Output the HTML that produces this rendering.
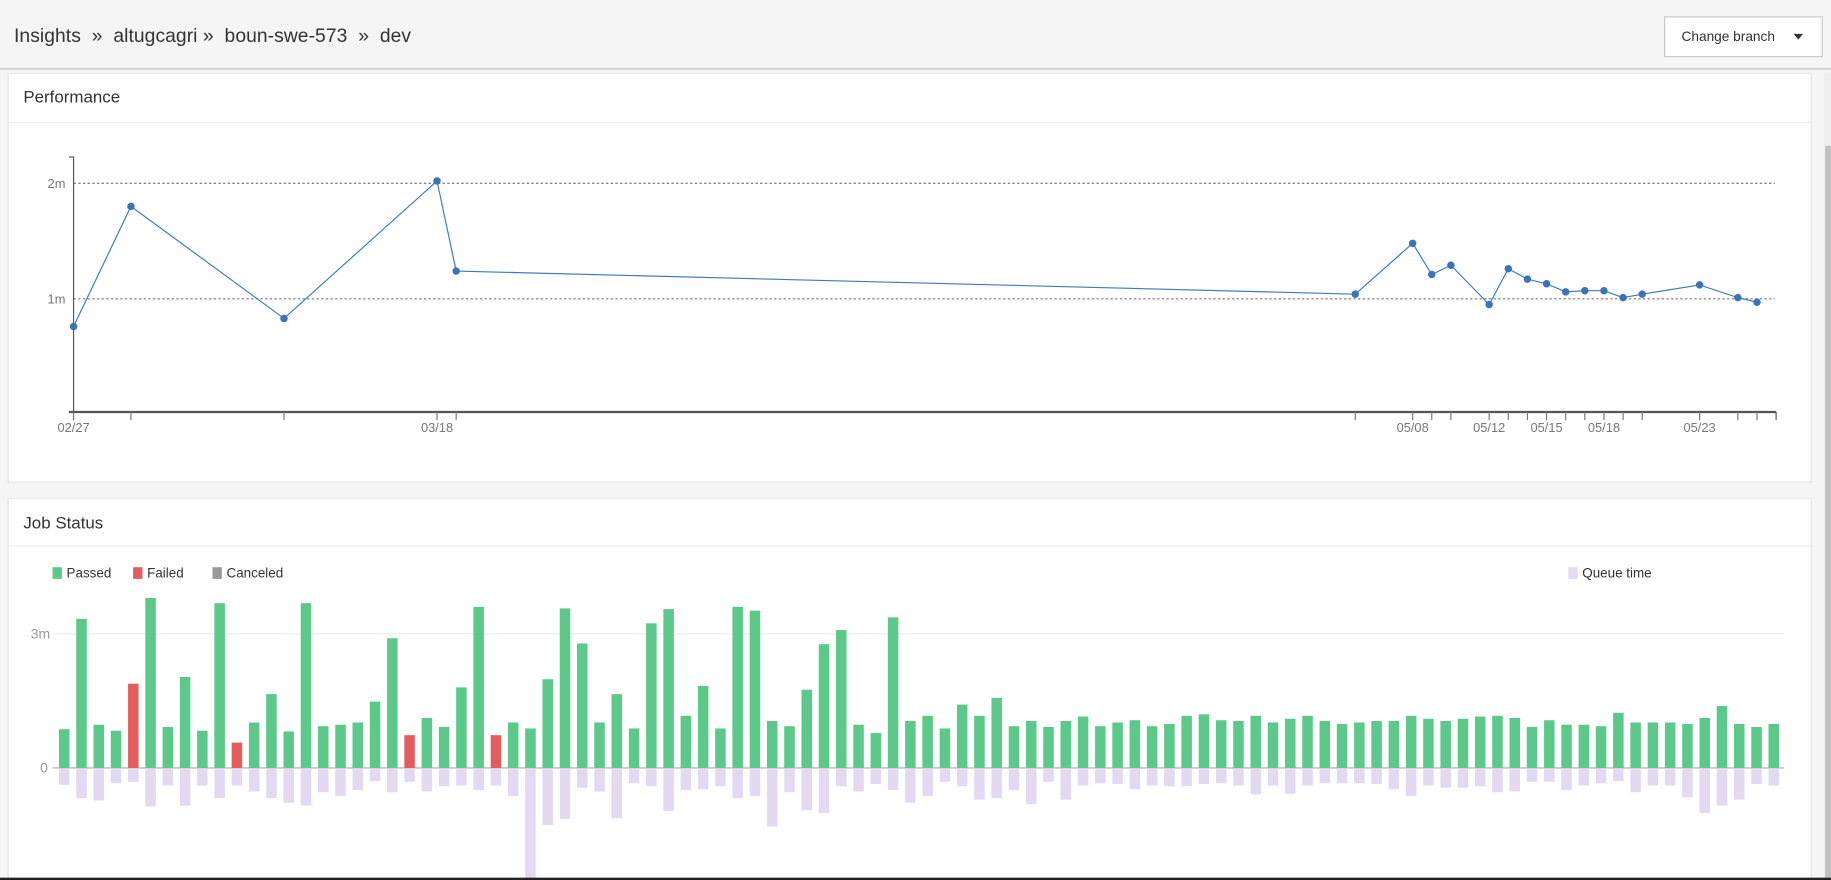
<!DOCTYPE html>
<html><head><meta charset="utf-8"><style>
html,body{margin:0;padding:0;background:#f5f5f5;overflow:hidden}
svg{display:block;font-family:"Liberation Sans",Arial,sans-serif}
</style></head><body>
<svg id="root" width="1831" height="880" viewBox="0 0 1568 754" preserveAspectRatio="none" xmlns="http://www.w3.org/2000/svg">
<rect x="0" y="0" width="1568" height="754" fill="#f5f5f5"/>
<g>
<line x1="0" y1="59" x2="1568" y2="59" stroke="#d0d0d0" stroke-width="1.5"/>
<text x="12" y="36" font-size="16.5" fill="#333" style="white-space:pre" textLength="340">Insights  »  altugcagri »  boun-swe-573  »  dev</text>
<g>
<rect x="1425.5" y="14.5" width="135" height="34" fill="#fff" stroke="#c8c8c8"/>
<text x="1440" y="35" font-size="11.5" fill="#333" textLength="80" lengthAdjust="spacingAndGlyphs">Change branch</text>
<path d="M1536 29 L1544 29 L1540 34 Z" fill="#333"/>
</g>
</g>
<rect x="1562" y="62" width="6" height="692" fill="#eee"/>
<rect x="1563" y="125" width="5" height="629" fill="#c1c1c1"/>
<g>
<rect x="7" y="63" width="1544" height="350" fill="#fff" stroke="#e6e6e6"/>
<line x1="7" y1="105" x2="1551" y2="105" stroke="#eee"/>
<text x="20" y="88" font-size="14.5" fill="#333">Performance</text>
<g id="perf"></g>
</g>
<g>
<rect x="7" y="427" width="1544" height="340" fill="#fff" stroke="#e6e6e6"/>
<line x1="7" y1="468" x2="1551" y2="468" stroke="#eee"/>
<text x="20" y="453" font-size="14.5" fill="#333">Job Status</text>
<g font-size="11.5" fill="#333">
<g><rect x="45" y="486" width="8" height="10" fill="#5cc98a"/><text x="57" y="495">Passed</text></g>
<g><rect x="114" y="486" width="8" height="10" fill="#e35d5d"/><text x="126" y="495">Failed</text></g>
<g><rect x="182" y="486" width="8" height="10" fill="#999"/><text x="194" y="495">Canceled</text></g>
<g><rect x="1343" y="486" width="8" height="10" fill="#e3d9f2"/><text x="1355" y="495">Queue time</text></g>
</g>
<g id="jobs"></g>
</g>
<rect x="0" y="752" width="1568" height="2" fill="#222"/>
</svg>
<script>
// Performance data (days since 02/27, duration minutes)
const perfDays=[0,3,11,19,20,67,70,71,72,74,75,76,77,78,79,80,81,82,85,87,88];
const perfValues=[0.76,1.80,0.83,2.02,1.24,1.04,1.48,1.21,1.29,0.95,1.26,1.17,1.13,1.06,1.07,1.07,1.01,1.04,1.12,1.01,0.97];
const perfTickDays=[0,19,70,74,77,80,85];
const perfTickLabels=["02/27","03/18","05/08","05/12","05/15","05/18","05/23"];
const perfYTicks=[1,2];
const perfYLabels=["1m","2m"];
// Job status data (seconds)
const jobDurations=[52,200,58,50,113,228,55,122,50,221,34,61,99,49,221,56,58,61,89,174,44,67,55,108,216,44,61,53,119,214,167,61,99,53,194,213,70,110,53,216,211,63,56,105,166,185,58,47,202,63,70,53,85,70,94,56,63,55,63,69,56,61,64,56,59,70,72,64,63,70,61,66,70,63,59,61,63,63,70,66,63,66,69,70,67,55,64,58,58,56,74,61,61,61,59,67,83,59,55,59];
const jobStatus=["p","p","p","p","f","p","p","p","p","p","f","p","p","p","p","p","p","p","p","p","f","p","p","p","p","f","p","p","p","p","p","p","p","p","p","p","p","p","p","p","p","p","p","p","p","p","p","p","p","p","p","p","p","p","p","p","p","p","p","p","p","p","p","p","p","p","p","p","p","p","p","p","p","p","p","p","p","p","p","p","p","p","p","p","p","p","p","p","p","p","p","p","p","p","p","p","p","p","p","p"];
const queueTimes=[21,39,42,19,17,50,22,49,22,39,22,30,39,45,49,31,36,28,16,31,17,30,23,22,28,22,36,160,75,67,25,30,66,19,23,56,28,27,23,39,36,77,31,55,59,23,30,20,28,45,36,17,23,41,39,28,47,17,41,22,19,20,27,22,23,23,20,19,22,34,22,33,22,19,19,19,20,27,36,22,25,25,23,31,30,17,17,28,22,19,16,31,22,22,38,59,49,41,20,22];
const jobYTicks=[0,180];
const jobYLabels=["0","3m"];

const NS="http://www.w3.org/2000/svg";
function mk(tag,attrs,parent){const e=document.createElementNS(NS,tag);for(const k in attrs)e.setAttribute(k,attrs[k]);parent.appendChild(e);return e;}

const px=d=>63+d*(1458/89);
const py=v=>355-v*99;
const perf=document.getElementById('perf');
perfYTicks.forEach((t,i)=>{
  const g=mk('line',{x1:63,y1:py(t),x2:1520,y2:py(t),stroke:'#777','stroke-dasharray':'2,2'},perf);
  
  
  const tx=mk('text',{x:56,y:py(t)+4,'font-size':11,fill:'#777','text-anchor':'end'},perf);
  tx.textContent=perfYLabels[i];
  
  
});
let a=mk('line',{x1:63,y1:134,x2:63,y2:354,stroke:'#555'},perf);


mk('line',{x1:59,y1:134.5,x2:63,y2:134.5,stroke:'#555'},perf);
a=mk('line',{x1:59,y1:353,x2:1521,y2:353,stroke:'#555','stroke-width':2},perf);


mk('line',{x1:1521,y1:353,x2:1521,y2:360,stroke:'#555'},perf);
perfDays.forEach(d=>{mk('line',{x1:px(d),y1:353,x2:px(d),y2:360,stroke:'#777'},perf);});
perfTickDays.forEach((d,i)=>{
  const t=mk('text',{x:px(d),y:370,'font-size':11,fill:'#777','text-anchor':'middle'},perf);
  t.textContent=perfTickLabels[i];
  
  
});
const pts=perfDays.map((d,i)=>px(d)+','+py(perfValues[i])).join(' ');
const ln=mk('polyline',{points:pts,fill:'none',stroke:'#3a7bbf','stroke-width':1},perf);


perfDays.forEach((d,i)=>{
  const c=mk('circle',{cx:px(d),cy:py(perfValues[i]),r:3.2,fill:'#3a74b4'},perf);
  
  
});

const jobs=document.getElementById('jobs');
const jy0=658, jscale=38.33/60;
const jx=i=>55+i*(1464/99);
jobYTicks.forEach((t,i)=>{
  const l=mk('line',{x1:45,y1:jy0-t*jscale,x2:1528,y2:jy0-t*jscale,stroke:t===0?'#aaa':'#eee'},jobs);
  
  
  const tx=mk('text',{x:t===0?41:43,y:jy0-t*jscale+4,'font-size':12,fill:'#999','text-anchor':'end'},jobs);
  tx.textContent=jobYLabels[i];
  
  
});
jobDurations.forEach((v,i)=>{
  const h=v*jscale;
  const b=mk('rect',{x:jx(i)-4.5,y:jy0-h,width:9,height:h,fill:jobStatus[i]==='f'?'#e35d5d':'#5cc98a'},jobs);
  
  
  const q=queueTimes[i]*jscale;
  const qb=mk('rect',{x:jx(i)-4.5,y:jy0+1,width:9,height:q,fill:'#e3d9f2'},jobs);
  
  
});
</script>
</body></html>
